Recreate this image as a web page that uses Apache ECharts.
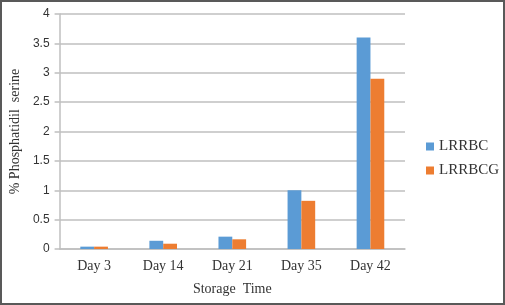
<!DOCTYPE html>
<html>
<head>
<meta charset="utf-8">
<script src="https://cdn.jsdelivr.net/npm/echarts@6/dist/echarts.min.js"></script>
<style>
  html, body { margin: 0; padding: 0; background: #fff; }
  #main { width: 505px; height: 305px; }
</style>
</head>
<body>
<div id="main"></div>
<script>
// data
var days = ['Day 3', 'Day 14', 'Day 21', 'Day 35', 'Day 42'];
var lrrbc = [0.04, 0.14, 0.21, 1.0, 3.6];
var lrrbcg = [0.04, 0.09, 0.165, 0.82, 2.9];

var myChart = echarts.init(document.getElementById('main'));

myChart.setOption({
    backgroundColor: '#fff',
    animation: false,
    graphic: [{
        type: 'rect',
        shape: { x: 1, y: 1, width: 503, height: 303 },
        style: { fill: 'none', stroke: '#595959', lineWidth: 2 }
    }],
    grid: {
        left: 55,
        right: 100,
        top: 14,
        bottom: 56
    },
    legend: {
        orient: 'vertical',
        left: 421,
        top: 134,
        itemWidth: 8,
        itemHeight: 8,
        itemGap: 9,
        icon: 'rect',
        textStyle: {
            fontFamily: 'Liberation Serif',
            fontSize: 15,
            color: '#333'
        },
        data: ['LRRBC', 'LRRBCG']
    },
    xAxis: {
        type: 'category',
        data: days,
        name: 'Storage  Time',
        nameLocation: 'middle',
        nameGap: 33,
        nameTextStyle: {
            fontFamily: 'Liberation Serif',
            fontSize: 14,
            color: '#333'
        },
        axisLine: { lineStyle: { color: '#bfbfbf', width: 1.5 } },
        axisTick: { show: false },
        axisLabel: {
            fontFamily: 'Liberation Serif',
            fontSize: 14,
            color: '#333',
            margin: 10
        }
    },
    yAxis: {
        type: 'value',
        min: 0,
        max: 4,
        interval: 0.5,
        name: '% Phosphatidil  serine',
        nameLocation: 'middle',
        nameGap: 37,
        nameTextStyle: {
            fontFamily: 'Liberation Serif',
            fontSize: 14,
            color: '#333'
        },
        axisLine: { show: true, lineStyle: { color: '#bfbfbf', width: 1.5 } },
        axisTick: { show: true, length: 5, lineStyle: { color: '#bfbfbf', width: 1.5 } },
        axisLabel: {
            fontFamily: 'Liberation Sans',
            fontSize: 12,
            color: '#333',
            margin: 10
        },
        splitLine: { lineStyle: { color: '#bfbfbf', width: 1.5 } }
    },
    series: [
        {
            name: 'LRRBC',
            type: 'bar',
            data: lrrbc,
            barGap: '0%',
            barCategoryGap: '60%',
            itemStyle: { color: '#5b9bd5' }
        },
        {
            name: 'LRRBCG',
            type: 'bar',
            data: lrrbcg,
            itemStyle: { color: '#ed7d31' }
        }
    ]
});
</script>
</body>
</html>
